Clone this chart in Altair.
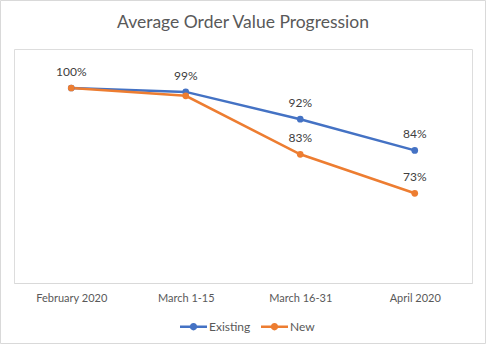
import altair as alt
import pandas as pd

title_text = "Average Order Value Progression"
periods = ["February 2020", "March 1-15", "March 16-31", "April 2020"]
series_names = ["Existing", "New"]
existing_values = [100, 99, 92, 84]
new_values = [100, 98, 83, 73]
existing_show_label = [False, True, True, True]
new_show_label = [True, False, True, True]
colors = ["#4472C4", "#ED7D31"]

rows = []
for i, p in enumerate(periods):
    rows.append({"period": p, "series": "Existing", "value": existing_values[i] / 100,
                 "show": existing_show_label[i]})
    rows.append({"period": p, "series": "New", "value": new_values[i] / 100,
                 "show": new_show_label[i]})
df = pd.DataFrame(rows)

FONT = "Lato"
GREY = "#595959"

legend_path = ("M-1,-0.09 L1,-0.09 L1,0.09 L-1,0.09 Z "
               "M0.27,0 A0.27,0.27 0 1,1 -0.27,0 A0.27,0.27 0 1,1 0.27,0 Z")

x_enc = alt.X("period:N", sort=periods, title=None,
              scale=alt.Scale(type="point", padding=0.5),
              axis=alt.Axis(labelAngle=0, ticks=False, domainColor="#D9D9D9",
                            labelColor=GREY, labelFont=FONT, labelFontSize=11,
                            labelPadding=9, grid=False))
y_enc = alt.Y("value:Q", title=None, scale=alt.Scale(domain=[0.5, 1.1]), axis=None)
color_enc = alt.Color("series:N", sort=series_names,
                      scale=alt.Scale(domain=series_names, range=colors),
                      legend=alt.Legend(title=None, orient="none", direction="horizontal",
                                        legendX=166, legendY=264,
                                        symbolType=legend_path, symbolSize=729,
                                        symbolStrokeWidth=0, symbolOpacity=1,
                                        labelFont=FONT, labelFontSize=12, labelColor=GREY,
                                        labelOffset=2, columnPadding=10))

base = alt.Chart(df)

lines = base.mark_line(strokeWidth=2.5).encode(x=x_enc, y=y_enc, color=color_enc)
points = base.mark_circle(size=45, opacity=1).encode(
    x=alt.X("period:N", sort=periods), y="value:Q",
    color=alt.Color("series:N", legend=None))
labels = base.transform_filter("datum.show").mark_text(
    dy=-16, baseline="middle", font=FONT, fontSize=12, color="#404040"
).encode(x=alt.X("period:N", sort=periods), y="value:Q",
         text=alt.Text("value:Q", format=".0%"))

deco = alt.Chart(pd.DataFrame({"t": [title_text]}))
border = deco.mark_rect(
    fill=None, stroke="#D9D9D9", strokeWidth=1
).encode(x=alt.value(-13.5), x2=alt.value(471.5), y=alt.value(-48.5), y2=alt.value(294.5))
title = deco.mark_text(font=FONT, fontSize=17.5, color=GREY, align="center",
                       baseline="middle").encode(
    x=alt.value(229), y=alt.value(-26), text="t:N")

chart = alt.layer(border, title, lines, points, labels).properties(
    width=458, height=234,
    autosize=alt.AutoSizeParams(type="none"),
    padding={"left": 14, "top": 49, "right": 14, "bottom": 62},
).configure_view(stroke=None).configure(background="white")

chart.save("out.html", embed_options={"renderer": "svg", "actions": False})
